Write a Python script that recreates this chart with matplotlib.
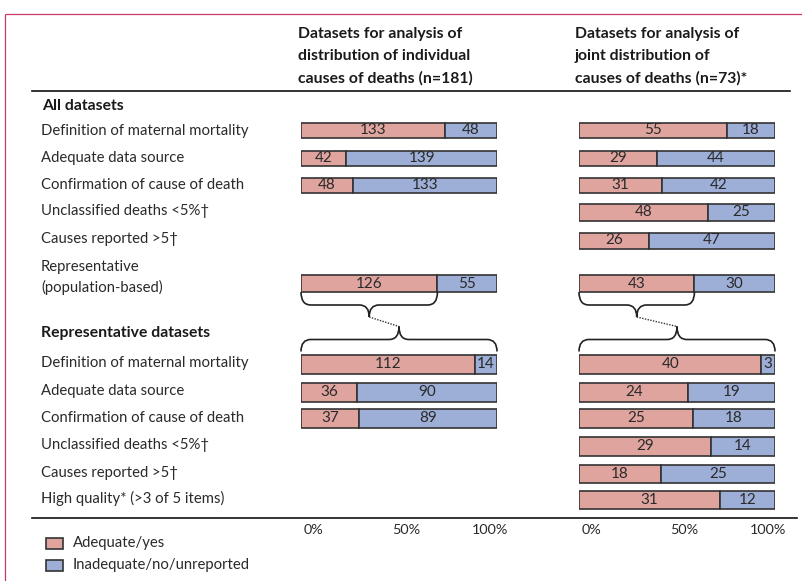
import matplotlib
matplotlib.use("Agg")
import matplotlib.pyplot as plt
from matplotlib.path import Path
from matplotlib.patches import PathPatch, Rectangle

plt.rcParams['font.family'] = ['Lato', 'DejaVu Sans']

# ---------------- data ----------------
header_individual = "Datasets for analysis of\ndistribution of individual\ncauses of deaths (n=181)"
header_joint = "Datasets for analysis of\njoint distribution of\ncauses of deaths (n=73)*"

section_all = "All datasets"
criteria_all = ["Definition of maternal mortality", "Adequate data source",
                "Confirmation of cause of death", "Unclassified deaths <5%\u2020",
                "Causes reported >5\u2020", "Representative\n(population-based)"]
individual_all_yes = [133, 42, 48, None, None, 126]
individual_all_no = [48, 139, 133, None, None, 55]
joint_all_yes = [55, 29, 31, 48, 26, 43]
joint_all_no = [18, 44, 42, 25, 47, 30]

section_rep = "Representative datasets"
criteria_rep = ["Definition of maternal mortality", "Adequate data source",
                "Confirmation of cause of death", "Unclassified deaths <5%\u2020",
                "Causes reported >5\u2020", "High quality* (>3 of 5 items)"]
individual_rep_yes = [112, 36, 37, None, None, None]
individual_rep_no = [14, 90, 89, None, None, None]
joint_rep_yes = [40, 24, 25, 29, 18, 31]
joint_rep_no = [3, 19, 18, 14, 25, 12]

pct_ticks = ["0%", "50%", "100%"]
legend_labels = ["Adequate/yes", "Inadequate/no/unreported"]

# ---------------- layout / style ----------------
W, H = 802, 581
RED = '#E0A49F'
BLUE = '#9DAED7'
EDGE = '#333333'
TXT = '#2a2a2a'
FS = 10.7
FSB = 11.3
FSN = 11

bar_y_all = [130.5, 158, 185, 212, 240.5, 283.5]
bar_h_all = [15, 15, 15, 17, 16, 17]
lab_y_all = [131, 158, 185, 211, 239, 277.5]
bar_y_rep = [364, 392, 418.5, 446.5, 474, 499.5]
bar_h_rep = [19, 19, 19, 19, 18, 18]
lab_y_rep = [363, 391, 418, 445, 473, 498]

fig = plt.figure(figsize=(W / 100, H / 100), dpi=100)
bg = fig.add_axes([0, 0, 1, 1])
bg.set_xlim(0, W)
bg.set_ylim(H, 0)
bg.axis('off')

# frame
bg.plot([5, W], [14, 14], color='#C8396B', lw=0.9, solid_capstyle='butt')
bg.plot([5, 5], [14, H], color='#C8396B', lw=0.9, solid_capstyle='butt')
# rules
bg.plot([32, 790], [91, 91], color='#111111', lw=1.2)
bg.plot([32, 797], [518, 518], color='#111111', lw=1.2)

# headers
for x0, txt in [(298, header_individual), (575, header_joint)]:
    for i, line in enumerate(txt.split("\n")):
        bg.text(x0, 34 + 22 * i, line, fontsize=FSB, fontweight='bold',
                color='#1a1a1a', va='center', ha='left')

bg.text(42, 106, section_all, fontsize=FSB, fontweight='bold', color='#1a1a1a', va='center')
bg.text(41, 333, section_rep, fontsize=FSB, fontweight='bold', color='#1a1a1a', va='center')

for lab, y in zip(criteria_all, lab_y_all):
    bg.text(41, y, lab, fontsize=FS, color=TXT, va='center', linespacing=1.5)
for lab, y in zip(criteria_rep, lab_y_rep):
    bg.text(41, y, lab, fontsize=FS, color=TXT, va='center')

# panels
panels = []
for left in (301, 579):
    ax = fig.add_axes([left / W, 0, 196 / W, 1])
    ax.set_xlim(0, 100)
    ax.set_ylim(H, 0)
    ax.axis('off')
    panels.append(ax)
ax_ind, ax_joint = panels


def draw_rows(ax, yes, no, ys, hs):
    for a, b, y, h in zip(yes, no, ys, hs):
        if a is None:
            continue
        tot = a + b
        pa = a / tot * 100
        pb = b / tot * 100
        ax.barh(y, pa, left=0, height=h, color=RED, edgecolor=EDGE, lw=1.2)
        ax.barh(y, pb, left=pa, height=h, color=BLUE, edgecolor=EDGE, lw=1.2)
        ax.text(pa / 2, y, str(a), ha='center', va='center', fontsize=FSN, color=TXT)
        ax.text(pa + pb / 2, y, str(b), ha='center', va='center', fontsize=FSN, color=TXT)


draw_rows(ax_ind, individual_all_yes, individual_all_no, bar_y_all, bar_h_all)
draw_rows(ax_ind, individual_rep_yes, individual_rep_no, bar_y_rep, bar_h_rep)
draw_rows(ax_joint, joint_all_yes, joint_all_no, bar_y_all, bar_h_all)
draw_rows(ax_joint, joint_rep_yes, joint_rep_no, bar_y_rep, bar_h_rep)


def brace(ax, x0, x1, y_end, y_mid, y_tip, r=5.0):
    xm = (x0 + x1) / 2
    verts = [(x0, y_end), (x0, y_mid), (x0 + r, y_mid),
             (xm - r, y_mid),
             (xm, y_mid), (xm, y_tip),
             (xm, y_mid), (xm + r, y_mid),
             (x1 - r, y_mid),
             (x1, y_mid), (x1, y_end)]
    codes = [Path.MOVETO, Path.CURVE3, Path.CURVE3,
             Path.LINETO,
             Path.CURVE3, Path.CURVE3,
             Path.CURVE3, Path.CURVE3,
             Path.LINETO,
             Path.CURVE3, Path.CURVE3]
    ax.add_patch(PathPatch(Path(verts, codes), fill=False, edgecolor='#222222',
                           lw=1.2, clip_on=False))
    return xm


for ax, yes, no in [(ax_ind, individual_all_yes, individual_all_no),
                    (ax_joint, joint_all_yes, joint_all_no)]:
    a, b = yes[-1], no[-1]
    pa = a / (a + b) * 100
    top = bar_y_all[-1] + bar_h_all[-1] / 2
    bot = bar_y_rep[0] - bar_h_rep[0] / 2 - 3
    xm1 = brace(ax, 0, pa, top, top + 13, top + 25, r=5)
    xm2 = brace(ax, 0, 100, bot, bot - 12, bot - 25, r=5)
    ax.plot([xm1, xm2], [top + 25, bot - 25], color='#333333', lw=1.0,
            ls=(0, (1, 1)), clip_on=False)

# percent labels
for ax in panels:
    for frac_pos, t in zip([6.5, 53.5, 96.5], pct_ticks):
        ax.text(frac_pos, 530, t, ha='center', va='center', fontsize=FS - 0.3, color=TXT)

# legend
for i, (lab, col) in enumerate(zip(legend_labels, [RED, BLUE])):
    y = 543 + 22 * i
    bg.add_patch(Rectangle((46, y - 5.5), 17, 11, facecolor=col, edgecolor=EDGE, lw=1.2))
    bg.text(73, y, lab, fontsize=FS, color=TXT, va='center')

fig.savefig("out.png", dpi=100)
